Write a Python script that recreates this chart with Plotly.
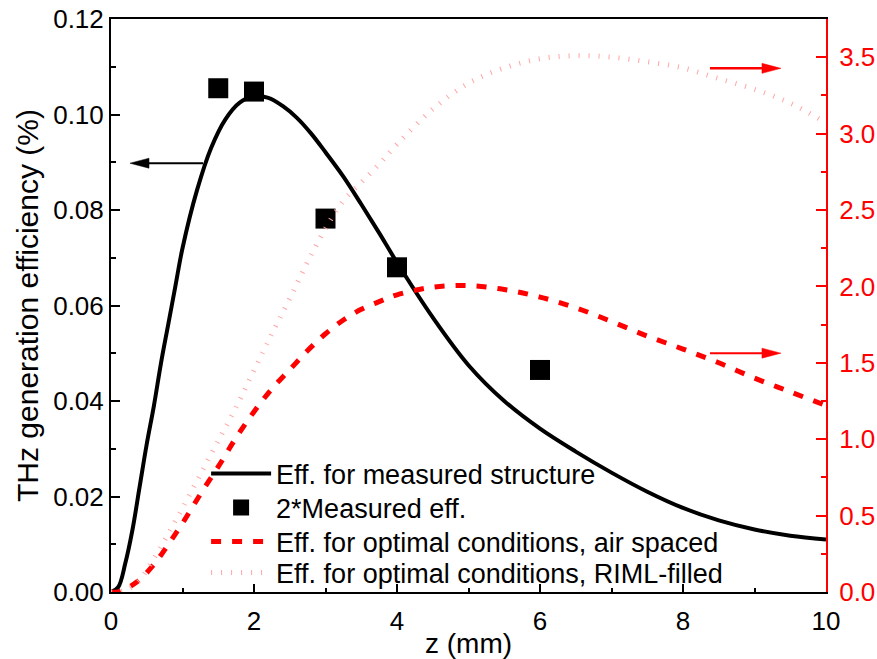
import plotly.graph_objects as go

# ---------------- data ----------------
z_meas_curve = [0.0, 0.1, 0.2, 0.3, 0.4, 0.5, 0.6, 0.7, 0.8, 0.9, 1.0, 1.2, 1.4, 1.6, 1.8,
                2.0, 2.2, 2.4, 2.6, 2.8, 3.0, 3.25, 3.5, 3.75, 4.0, 4.5, 5.0,
                5.5, 6.0, 6.5, 7.0, 7.5, 8.0, 8.5, 9.0, 9.5, 10.0]
eff_meas_curve = [0.0, 0.001, 0.006, 0.013, 0.022, 0.031, 0.039, 0.048, 0.056, 0.064, 0.072,
                  0.084, 0.093, 0.099, 0.1025, 0.1038, 0.1035, 0.1018, 0.0993, 0.0960, 0.0921,
                  0.0870, 0.0812, 0.0752, 0.0690, 0.0575, 0.0475,
                  0.0400, 0.0342, 0.0294, 0.0250, 0.0210, 0.0176, 0.0150, 0.0131, 0.0118, 0.0110]

z_points = [1.5, 2.0, 3.0, 4.0, 6.0]
eff_points = [0.1055, 0.1048, 0.0782, 0.0680, 0.0465]

z_air = [0.0, 0.1, 0.36, 0.6, 0.8, 1.0, 1.25, 1.5, 1.75, 2.0, 2.25, 2.5, 2.75, 3.0, 3.25,
         3.5, 3.75, 4.0, 4.5, 5.0, 5.5, 6.0, 6.5, 7.0, 7.5, 8.0, 8.5, 9.0, 9.5, 10.0]
eff_air = [0.0, 0.0, 0.065, 0.18, 0.31, 0.45, 0.64, 0.82, 1.01, 1.18, 1.33, 1.455, 1.58,
           1.69, 1.78, 1.85, 1.90, 1.945, 1.995, 2.005, 1.98, 1.93, 1.86, 1.77, 1.675,
           1.59, 1.50, 1.40, 1.31, 1.22]

z_riml = [0.0, 0.2, 0.4, 0.6, 0.8, 1.0, 1.25, 1.5, 1.75, 2.0, 2.25, 2.5, 2.75, 3.0, 3.25,
          3.5, 3.75, 4.0, 4.5, 5.0, 5.5, 6.0, 6.5, 7.0, 7.5, 8.0, 8.5, 9.0, 9.5, 10.0]
eff_riml = [0.0, 0.01, 0.08, 0.22, 0.38, 0.55, 0.77, 0.99, 1.21, 1.45, 1.69, 1.92, 2.16,
            2.38, 2.56, 2.68, 2.80, 2.93, 3.16, 3.33, 3.43, 3.49, 3.51, 3.50, 3.47, 3.43,
            3.36, 3.29, 3.20, 3.07]

names = ["Eff. for measured structure", "2*Measured eff.",
         "Eff. for optimal conditions, air spaced",
         "Eff. for optimal conditions, RIML-filled"]

x_ticks = [0, 2, 4, 6, 8, 10]
y_ticks = [0.00, 0.02, 0.04, 0.06, 0.08, 0.10, 0.12]
y2_ticks = [0.0, 0.5, 1.0, 1.5, 2.0, 2.5, 3.0, 3.5]

FONT = "Arial, 'Liberation Sans', sans-serif"
RED = "#ff0000"

fig = go.Figure()
fig.add_trace(go.Scatter(x=z_meas_curve, y=eff_meas_curve, mode="lines", name=names[0],
                         legend="legend",
                         line=dict(color="black", width=4, shape="spline", smoothing=1)))
fig.add_trace(go.Scatter(x=z_points, y=eff_points, mode="markers", name=names[1],
                         legend="legend2",
                         marker=dict(symbol="square", size=20, color="black",
                                     line=dict(width=0))))
fig.add_trace(go.Scatter(x=z_air, y=eff_air, mode="lines", name=names[2], yaxis="y2",
                         legend="legend3",
                         line=dict(color=RED, width=5, dash="10px,11px", shape="spline",
                                   smoothing=1)))
fig.add_trace(go.Scatter(x=z_riml, y=eff_riml, mode="lines", name=names[3], yaxis="y2",
                         legend="legend4",
                         line=dict(color="rgb(255,165,165)", width=5, dash="1px,9px",
                                   shape="spline", smoothing=1)))

# arrows (line + filled head, drawn in pixels anchored at the tip)
def arrow(xt, yt, yref, direction, color, lw, length):
    s = 1 if direction == "right" else -1
    fig.add_shape(type="path", xref="x", yref=yref, xsizemode="pixel", ysizemode="pixel",
                  xanchor=xt, yanchor=yt,
                  path=f"M{-s*length},0 L{-s*16},0", line=dict(color=color, width=lw))
    fig.add_shape(type="path", xref="x", yref=yref, xsizemode="pixel", ysizemode="pixel",
                  xanchor=xt, yanchor=yt,
                  path=f"M0,0 L{-s*19},-5 L{-s*19},5 Z", line=dict(color=color, width=0.5),
                  fillcolor=color)

arrow(0.266, 0.0898, "y", "left", "black", 2, 73)
arrow(9.37, 3.427, "y2", "right", RED, 2.5, 71)
arrow(9.37, 1.563, "y2", "right", RED, 2, 71)

def leg(ypix):
    return dict(x=0.133, y=(592 - ypix) / 573, xanchor="left", yanchor="middle",
                bgcolor="rgba(0,0,0,0)", font=dict(size=27), itemwidth=60,
                borderwidth=0)

fig.update_layout(
    width=877, height=659,
    margin=dict(l=111, r=51, t=19, b=67, autoexpand=False),
    paper_bgcolor="white", plot_bgcolor="white",
    font=dict(family=FONT, size=26, color="black"),
    showlegend=True,
    legend=leg(474), legend2=leg(508), legend3=leg(542), legend4=leg(573),
    xaxis=dict(range=[0, 10], tickvals=x_ticks, ticktext=[str(v) for v in x_ticks],
               showline=True, linecolor="black", linewidth=2, mirror=True,
               ticks="inside", ticklen=8, tickwidth=2, tickcolor="black",
               minor=dict(ticks="inside", ticklen=4, tickwidth=2, dtick=1,
                          tickcolor="black"),
               showgrid=False, zeroline=False, automargin=False,
               ticklabelstandoff=5,
               title=dict(text="z (mm)", font=dict(size=28), standoff=0),
               tickfont=dict(size=26)),
    yaxis=dict(range=[0, 0.12], tickvals=y_ticks, tickformat=".2f",
               showline=True, linecolor="black", linewidth=2,
               ticks="inside", ticklen=9, tickwidth=2, tickcolor="black",
               minor=dict(ticks="inside", ticklen=5, tickwidth=2, dtick=0.01,
                          tickcolor="black"),
               showgrid=False, zeroline=False, automargin=False,
               title=dict(text="THz generation efficiency (%)", font=dict(size=30),
                          standoff=6),
               tickfont=dict(size=26)),
    yaxis2=dict(range=[0, 3.75], tickvals=y2_ticks, tickformat=".1f",
                overlaying="y", side="right", anchor="x",
                showline=True, linecolor=RED, linewidth=2,
                ticks="inside", ticklen=10, tickwidth=2, tickcolor=RED,
                minor=dict(ticks="inside", ticklen=5, tickwidth=2, dtick=0.25,
                           tickcolor=RED),
                showgrid=False, zeroline=False, automargin=False,
                ticklabelstandoff=6,
                tickfont=dict(size=26, color=RED)),
)

fig.write_html("out.html")
